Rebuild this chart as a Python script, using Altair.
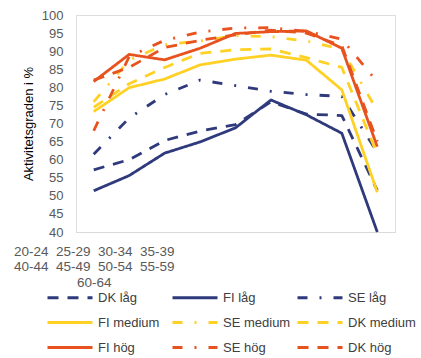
import altair as alt
import pandas as pd

categories = ["20-24", "25-29", "30-34", "35-39", "40-44", "45-49", "50-54", "55-59", "60-64"]

series_names = ["DK låg", "FI låg", "SE låg",
                "FI medium", "SE medium", "DK medium",
                "FI hög", "SE hög", "DK hög"]

dk_lag = [57.2, 60.0, 65.3, 67.9, 69.7, 76.0, 72.6, 72.2, 51.5]
fi_lag = [51.4, 55.6, 61.8, 64.9, 68.8, 76.5, 72.4, 67.3, 40.0]
se_lag = [61.5, 71.5, 78.0, 82.0, 80.5, 78.9, 78.0, 77.5, 62.0]
fi_medium = [73.3, 79.9, 82.3, 86.2, 87.8, 88.9, 87.5, 79.3, 51.0]
se_medium = [76.0, 87.5, 91.8, 92.8, 94.3, 94.0, 92.8, 90.5, 73.5]
dk_medium = [74.5, 81.0, 85.5, 89.4, 90.4, 90.6, 88.2, 85.5, 61.5]
fi_hog = [81.6, 89.1, 87.6, 90.8, 94.9, 95.4, 95.6, 90.8, 63.6]
se_hog = [68.0, 88.5, 93.0, 95.3, 96.4, 96.5, 95.5, 93.3, 81.5]
dk_hog = [82.0, 85.5, 91.0, 93.0, 94.5, 95.8, 95.0, 91.5, 65.0]

all_values = [dk_lag, fi_lag, se_lag, fi_medium, se_medium, dk_medium, fi_hog, se_hog, dk_hog]

NAVY = "#2F3A7C"
YELLOW = "#FFD124"
RED = "#E8521E"
colors = [NAVY, NAVY, NAVY, YELLOW, YELLOW, YELLOW, RED, RED, RED]
DASH = [11, 9]
SOLID = [1, 0]
DASHDOT = [10, 12, 2, 12]
dashes = [DASH, SOLID, DASHDOT, SOLID, DASHDOT, DASH, SOLID, DASHDOT, DASH]

rows = []
for si, (name, vals) in enumerate(zip(series_names, all_values)):
    for ci, (cat, v) in enumerate(zip(categories, vals)):
        rows.append({"series": name, "order": si, "age": cat, "value": v})
df = pd.DataFrame(rows)

FONT = "Liberation Sans"

# Excel-like wrapped category labels, shown as one block under the first category
groups = [categories[0:4], categories[4:8], categories[8:]]
joined = "|".join("\u00a0\u00a0".join(g) for g in groups)
label_expr = f"datum.value == '{categories[0]}' ? split('{joined}', '|') : ''"

legend_cfg = dict(title=None, orient="none", legendX=-35, legendY=276,
                  direction="horizontal", columns=3, symbolType="M0,0H10",
                  symbolSize=81, symbolStrokeWidth=2.8, labelFont=FONT,
                  labelFontSize=13, labelColor="#404040", labelOffset=44,
                  columnPadding=-1, rowPadding=11, gridAlign="all")

chart = alt.Chart(df).mark_line(strokeWidth=2.8, strokeCap="butt", strokeJoin="round").encode(
    x=alt.X("age:N", sort=categories,
            scale=alt.Scale(type="point", padding=0.5),
            axis=alt.Axis(title=None, labelExpr=label_expr, labelAngle=0,
                          labelAlign="center", labelBaseline="top",
                          labelLineHeight=15.5, labelPadding=12,
                          labelOverlap=False, labelLimit=400,
                          labelFontSize=13.5, labelColor="#595959", labelFont=FONT,
                          ticks=False, domainColor="#D9D9D9", domainWidth=1,
                          grid=False)),
    y=alt.Y("value:Q", scale=alt.Scale(domain=[40, 100], nice=False, zero=False),
            axis=alt.Axis(title="Aktivitetsgraden i %", values=list(range(40, 101, 5)),
                          labelFontSize=13, labelColor="#595959", labelFont=FONT,
                          labelPadding=13, titleFont=FONT, titleFontSize=13,
                          titleFontWeight="normal", titleColor="#000000",
                          titlePadding=6, ticks=False, domain=False, grid=False)),
    color=alt.Color("series:N", sort=series_names,
                    scale=alt.Scale(domain=series_names, range=colors),
                    legend=alt.Legend(**legend_cfg)),
    strokeDash=alt.StrokeDash("series:N", sort=series_names,
                              scale=alt.Scale(domain=series_names, range=dashes),
                              legend=alt.Legend(**legend_cfg)),
    order=alt.Order("order:Q"),
    detail="series:N",
).properties(
    width=319, height=217,
    padding={"left": 76, "top": 15, "right": 26, "bottom": 126},
    autosize="none",
).configure_view(stroke=None).configure(background="white")

chart.save("out.html", embed_options={"renderer": "svg", "actions": False})
